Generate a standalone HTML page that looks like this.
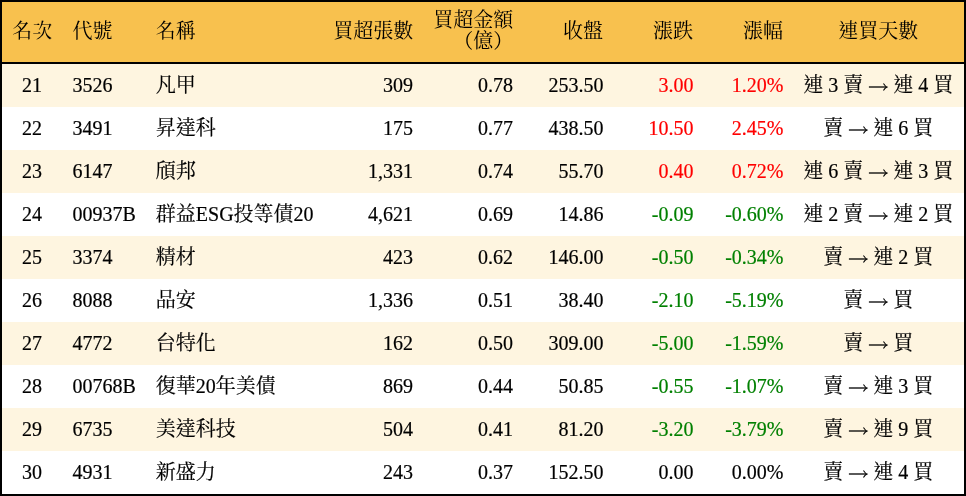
<!DOCTYPE html><html lang="zh-Hant"><head><meta charset="utf-8"><title>買超排行</title><style>

html,body{margin:0;padding:0;}
body{width:966px;height:496px;overflow:hidden;background:#000;position:relative;font-family:"Liberation Serif","Noto Serif CJK SC","Noto Sans CJK TC",serif;font-size:20px;color:#000;}
#t{position:absolute;left:0;top:0;width:966px;height:496px;will-change:transform;}
.hd{position:absolute;left:2px;top:2px;width:962px;height:60px;background:#F8C14E;}
.row{position:absolute;left:2px;width:962px;height:43px;background:#fff;}
.row.o{background:#FEF5E0;}
.c{position:absolute;top:-0.2px;height:100%;line-height:43px;white-space:nowrap;}
.hd .c{line-height:60px;top:-0.6px;}
.ar{width:1em;height:1em;vertical-align:-0.12em;overflow:visible;}
.s{position:absolute;left:2px;width:962px;height:1px;}
.sp{display:inline-block;width:5px;}
.row .c{-webkit-text-stroke:0.2px currentColor;}
.r{color:#FF0000;}.gr{color:#008000;}
.R{text-align:right;}.C{text-align:center;}
.hd .c.l1{line-height:20px;height:20px;top:8.4px;}
.hd .c.l2{line-height:20px;height:20px;top:29.3px;}

</style></head><body><div id="t">
<div class="hd">
<div class="c C " style="left:-169.7px;width:400px">名次</div>
<div class="c " style="left:70.6px">代號</div>
<div class="c " style="left:153.8px">名稱</div>
<div class="c R " style="left:0;width:411.3px">買超張數</div>
<div class="c R l1" style="left:0;width:511.29999999999995px">買超金額</div>
<div class="c R l2" style="left:0;width:511.29999999999995px">（億）</div>
<div class="c R " style="left:0;width:601.1px">收盤</div>
<div class="c R " style="left:0;width:691.1px">漲跌</div>
<div class="c R " style="left:0;width:781.1px">漲幅</div>
<div class="c C " style="left:676.2px;width:400px">連買天數</div>
</div>
<div class="row o" style="top:64px">
<div class="c C " style="left:-170px;width:400px">21</div>
<div class="c " style="left:70.6px">3526</div>
<div class="c " style="left:153.8px">凡甲</div>
<div class="c R " style="left:0;width:411.1px">309</div>
<div class="c R " style="left:0;width:511.0px">0.78</div>
<div class="c R " style="left:0;width:601.5px">253.50</div>
<div class="c R r" style="left:0;width:691.5px">3.00</div>
<div class="c R r" style="left:0;width:781.5px">1.20%</div>
<div class="c C " style="left:676.3px;width:400px" aria-label="連 3 賣 → 連 4 買">連<span class="sp"></span>3<span class="sp"></span>賣<span class="sp"></span><svg class="ar" viewBox="0 0 20 20"><path d="M0.9 13H17.6" fill="none" stroke="#000" stroke-width="1.3"/><path d="M20.2 13Q17.3 12 15.9 9.2L15 9.8Q16.2 11.7 17.3 12.4L17.3 13.6Q16.2 14.3 15 16.2L15.9 16.8Q17.3 14 20.2 13Z" fill="#000"/></svg><span class="sp"></span>連<span class="sp"></span>4<span class="sp"></span>買</div>
</div>
<div class="row " style="top:107px">
<div class="c C " style="left:-170px;width:400px">22</div>
<div class="c " style="left:70.6px">3491</div>
<div class="c " style="left:153.8px">昇達科</div>
<div class="c R " style="left:0;width:411.1px">175</div>
<div class="c R " style="left:0;width:511.0px">0.77</div>
<div class="c R " style="left:0;width:601.5px">438.50</div>
<div class="c R r" style="left:0;width:691.5px">10.50</div>
<div class="c R r" style="left:0;width:781.5px">2.45%</div>
<div class="c C " style="left:676.3px;width:400px" aria-label="賣 → 連 6 買">賣<span class="sp"></span><svg class="ar" viewBox="0 0 20 20"><path d="M0.9 13H17.6" fill="none" stroke="#000" stroke-width="1.3"/><path d="M20.2 13Q17.3 12 15.9 9.2L15 9.8Q16.2 11.7 17.3 12.4L17.3 13.6Q16.2 14.3 15 16.2L15.9 16.8Q17.3 14 20.2 13Z" fill="#000"/></svg><span class="sp"></span>連<span class="sp"></span>6<span class="sp"></span>買</div>
</div>
<div class="row o" style="top:150px">
<div class="c C " style="left:-170px;width:400px">23</div>
<div class="c " style="left:70.6px">6147</div>
<div class="c " style="left:153.8px">頎邦</div>
<div class="c R " style="left:0;width:411.1px">1,331</div>
<div class="c R " style="left:0;width:511.0px">0.74</div>
<div class="c R " style="left:0;width:601.5px">55.70</div>
<div class="c R r" style="left:0;width:691.5px">0.40</div>
<div class="c R r" style="left:0;width:781.5px">0.72%</div>
<div class="c C " style="left:676.3px;width:400px" aria-label="連 6 賣 → 連 3 買">連<span class="sp"></span>6<span class="sp"></span>賣<span class="sp"></span><svg class="ar" viewBox="0 0 20 20"><path d="M0.9 13H17.6" fill="none" stroke="#000" stroke-width="1.3"/><path d="M20.2 13Q17.3 12 15.9 9.2L15 9.8Q16.2 11.7 17.3 12.4L17.3 13.6Q16.2 14.3 15 16.2L15.9 16.8Q17.3 14 20.2 13Z" fill="#000"/></svg><span class="sp"></span>連<span class="sp"></span>3<span class="sp"></span>買</div>
</div>
<div class="row " style="top:193px">
<div class="c C " style="left:-170px;width:400px">24</div>
<div class="c " style="left:70.6px">00937B</div>
<div class="c " style="left:153.8px">群益ESG投等債20</div>
<div class="c R " style="left:0;width:411.1px">4,621</div>
<div class="c R " style="left:0;width:511.0px">0.69</div>
<div class="c R " style="left:0;width:601.5px">14.86</div>
<div class="c R gr" style="left:0;width:691.5px">-0.09</div>
<div class="c R gr" style="left:0;width:781.5px">-0.60%</div>
<div class="c C " style="left:676.3px;width:400px" aria-label="連 2 賣 → 連 2 買">連<span class="sp"></span>2<span class="sp"></span>賣<span class="sp"></span><svg class="ar" viewBox="0 0 20 20"><path d="M0.9 13H17.6" fill="none" stroke="#000" stroke-width="1.3"/><path d="M20.2 13Q17.3 12 15.9 9.2L15 9.8Q16.2 11.7 17.3 12.4L17.3 13.6Q16.2 14.3 15 16.2L15.9 16.8Q17.3 14 20.2 13Z" fill="#000"/></svg><span class="sp"></span>連<span class="sp"></span>2<span class="sp"></span>買</div>
</div>
<div class="row o" style="top:236px">
<div class="c C " style="left:-170px;width:400px">25</div>
<div class="c " style="left:70.6px">3374</div>
<div class="c " style="left:153.8px">精材</div>
<div class="c R " style="left:0;width:411.1px">423</div>
<div class="c R " style="left:0;width:511.0px">0.62</div>
<div class="c R " style="left:0;width:601.5px">146.00</div>
<div class="c R gr" style="left:0;width:691.5px">-0.50</div>
<div class="c R gr" style="left:0;width:781.5px">-0.34%</div>
<div class="c C " style="left:676.3px;width:400px" aria-label="賣 → 連 2 買">賣<span class="sp"></span><svg class="ar" viewBox="0 0 20 20"><path d="M0.9 13H17.6" fill="none" stroke="#000" stroke-width="1.3"/><path d="M20.2 13Q17.3 12 15.9 9.2L15 9.8Q16.2 11.7 17.3 12.4L17.3 13.6Q16.2 14.3 15 16.2L15.9 16.8Q17.3 14 20.2 13Z" fill="#000"/></svg><span class="sp"></span>連<span class="sp"></span>2<span class="sp"></span>買</div>
</div>
<div class="row " style="top:279px">
<div class="c C " style="left:-170px;width:400px">26</div>
<div class="c " style="left:70.6px">8088</div>
<div class="c " style="left:153.8px">品安</div>
<div class="c R " style="left:0;width:411.1px">1,336</div>
<div class="c R " style="left:0;width:511.0px">0.51</div>
<div class="c R " style="left:0;width:601.5px">38.40</div>
<div class="c R gr" style="left:0;width:691.5px">-2.10</div>
<div class="c R gr" style="left:0;width:781.5px">-5.19%</div>
<div class="c C " style="left:676.3px;width:400px" aria-label="賣 → 買">賣<span class="sp"></span><svg class="ar" viewBox="0 0 20 20"><path d="M0.9 13H17.6" fill="none" stroke="#000" stroke-width="1.3"/><path d="M20.2 13Q17.3 12 15.9 9.2L15 9.8Q16.2 11.7 17.3 12.4L17.3 13.6Q16.2 14.3 15 16.2L15.9 16.8Q17.3 14 20.2 13Z" fill="#000"/></svg><span class="sp"></span>買</div>
</div>
<div class="row o" style="top:322px">
<div class="c C " style="left:-170px;width:400px">27</div>
<div class="c " style="left:70.6px">4772</div>
<div class="c " style="left:153.8px">台特化</div>
<div class="c R " style="left:0;width:411.1px">162</div>
<div class="c R " style="left:0;width:511.0px">0.50</div>
<div class="c R " style="left:0;width:601.5px">309.00</div>
<div class="c R gr" style="left:0;width:691.5px">-5.00</div>
<div class="c R gr" style="left:0;width:781.5px">-1.59%</div>
<div class="c C " style="left:676.3px;width:400px" aria-label="賣 → 買">賣<span class="sp"></span><svg class="ar" viewBox="0 0 20 20"><path d="M0.9 13H17.6" fill="none" stroke="#000" stroke-width="1.3"/><path d="M20.2 13Q17.3 12 15.9 9.2L15 9.8Q16.2 11.7 17.3 12.4L17.3 13.6Q16.2 14.3 15 16.2L15.9 16.8Q17.3 14 20.2 13Z" fill="#000"/></svg><span class="sp"></span>買</div>
</div>
<div class="row " style="top:365px">
<div class="c C " style="left:-170px;width:400px">28</div>
<div class="c " style="left:70.6px">00768B</div>
<div class="c " style="left:153.8px">復華20年美債</div>
<div class="c R " style="left:0;width:411.1px">869</div>
<div class="c R " style="left:0;width:511.0px">0.44</div>
<div class="c R " style="left:0;width:601.5px">50.85</div>
<div class="c R gr" style="left:0;width:691.5px">-0.55</div>
<div class="c R gr" style="left:0;width:781.5px">-1.07%</div>
<div class="c C " style="left:676.3px;width:400px" aria-label="賣 → 連 3 買">賣<span class="sp"></span><svg class="ar" viewBox="0 0 20 20"><path d="M0.9 13H17.6" fill="none" stroke="#000" stroke-width="1.3"/><path d="M20.2 13Q17.3 12 15.9 9.2L15 9.8Q16.2 11.7 17.3 12.4L17.3 13.6Q16.2 14.3 15 16.2L15.9 16.8Q17.3 14 20.2 13Z" fill="#000"/></svg><span class="sp"></span>連<span class="sp"></span>3<span class="sp"></span>買</div>
</div>
<div class="row o" style="top:408px">
<div class="c C " style="left:-170px;width:400px">29</div>
<div class="c " style="left:70.6px">6735</div>
<div class="c " style="left:153.8px">美達科技</div>
<div class="c R " style="left:0;width:411.1px">504</div>
<div class="c R " style="left:0;width:511.0px">0.41</div>
<div class="c R " style="left:0;width:601.5px">81.20</div>
<div class="c R gr" style="left:0;width:691.5px">-3.20</div>
<div class="c R gr" style="left:0;width:781.5px">-3.79%</div>
<div class="c C " style="left:676.3px;width:400px" aria-label="賣 → 連 9 買">賣<span class="sp"></span><svg class="ar" viewBox="0 0 20 20"><path d="M0.9 13H17.6" fill="none" stroke="#000" stroke-width="1.3"/><path d="M20.2 13Q17.3 12 15.9 9.2L15 9.8Q16.2 11.7 17.3 12.4L17.3 13.6Q16.2 14.3 15 16.2L15.9 16.8Q17.3 14 20.2 13Z" fill="#000"/></svg><span class="sp"></span>連<span class="sp"></span>9<span class="sp"></span>買</div>
</div>
<div class="row " style="top:451px">
<div class="c C " style="left:-170px;width:400px">30</div>
<div class="c " style="left:70.6px">4931</div>
<div class="c " style="left:153.8px">新盛力</div>
<div class="c R " style="left:0;width:411.1px">243</div>
<div class="c R " style="left:0;width:511.0px">0.37</div>
<div class="c R " style="left:0;width:601.5px">152.50</div>
<div class="c R " style="left:0;width:691.5px">0.00</div>
<div class="c R " style="left:0;width:781.5px">0.00%</div>
<div class="c C " style="left:676.3px;width:400px" aria-label="賣 → 連 4 買">賣<span class="sp"></span><svg class="ar" viewBox="0 0 20 20"><path d="M0.9 13H17.6" fill="none" stroke="#000" stroke-width="1.3"/><path d="M20.2 13Q17.3 12 15.9 9.2L15 9.8Q16.2 11.7 17.3 12.4L17.3 13.6Q16.2 14.3 15 16.2L15.9 16.8Q17.3 14 20.2 13Z" fill="#000"/></svg><span class="sp"></span>連<span class="sp"></span>4<span class="sp"></span>買</div>
</div>
</div></body></html>
